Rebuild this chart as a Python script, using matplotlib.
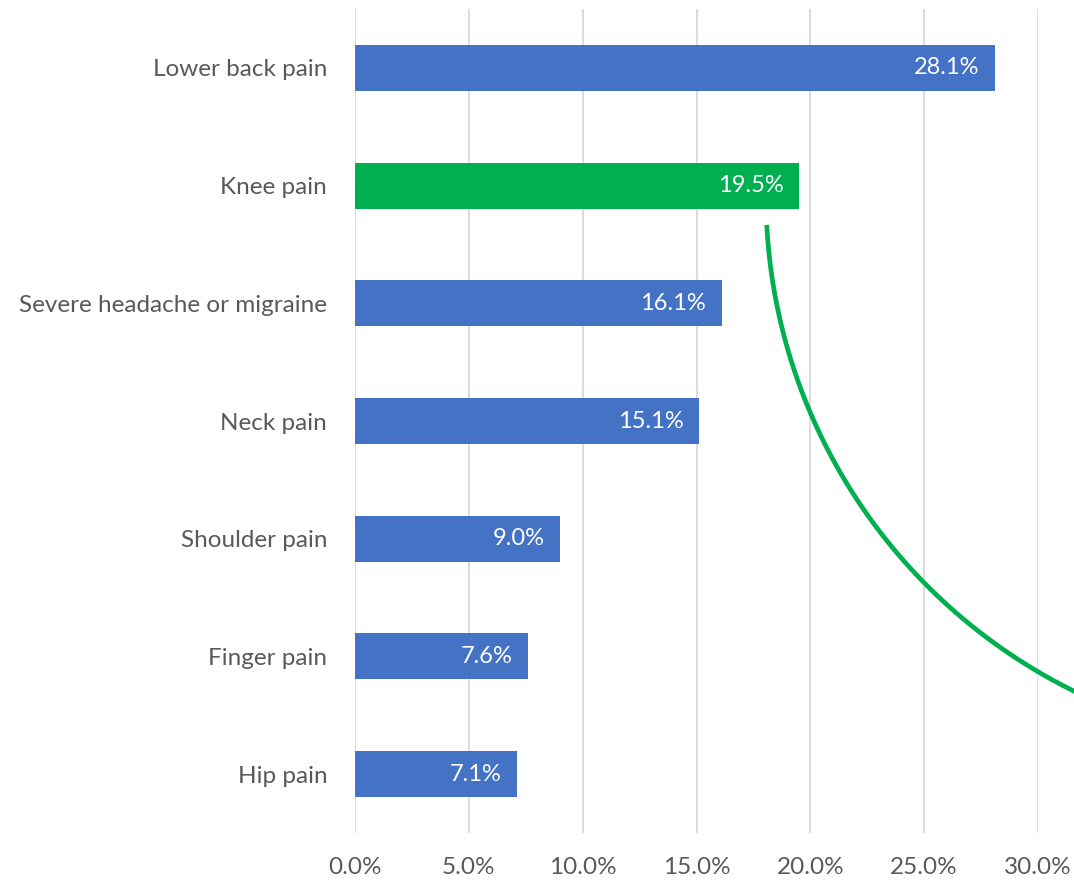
import numpy as np
import matplotlib.pyplot as plt
from matplotlib.lines import Line2D

# datos
categorias = ['Lower back pain', 'Knee pain', 'Severe headache or migraine',
              'Neck pain', 'Shoulder pain', 'Finger pain', 'Hip pain']
valores = [28.1, 19.5, 16.1, 15.1, 9.0, 7.6, 7.1]
colores = ['#4472C4', '#00B050', '#4472C4', '#4472C4', '#4472C4', '#4472C4', '#4472C4']
ticks_x = [0, 5, 10, 15, 20, 25, 30]

plt.rcParams['font.family'] = ['Lato', 'DejaVu Sans']
gris = '#595959'

W, H = 1074, 880
fig = plt.figure(figsize=(W / 100, H / 100), dpi=100)
ax = fig.add_axes([355 / W, 47 / H, (1038 - 355) / W, (833 - 9) / H])

y = np.arange(len(categorias))
ax.barh(y, valores, height=0.39, color=colores, zorder=3)
for yi, v in zip(y, valores):
    ax.annotate(f'{v:.1f}%', (v, yi), xytext=(-11, 0), textcoords='offset points',
                ha='right', va='center', color='white', fontsize=17, zorder=4)

ax.set_ylim(len(categorias) - 0.5, -0.5)
ax.set_xlim(0, 30)
ax.set_yticks(y)
ax.set_yticklabels(categorias)
ax.set_xticks(ticks_x)
ax.set_xticklabels([f'{t:.1f}%' for t in ticks_x])
ax.tick_params(axis='both', length=0, labelsize=17.5, colors=gris)
ax.tick_params(axis='y', pad=20)
ax.tick_params(axis='x', pad=17)
ax.grid(axis='x', color='#D9D9D9', linewidth=1.3, zorder=0)
for s in ax.spines.values():
    s.set_visible(False)

# arco verde (en pixeles de la figura)
cx, cy, r = 1318, H - 196, 552
ang = np.radians(np.linspace(183, 252, 200))
ax_arc = cx + r * np.cos(ang)
ay_arc = cy + r * np.sin(ang)
fig.add_artist(Line2D(ax_arc / W, ay_arc / H, transform=fig.transFigure,
                      color='#00B050', linewidth=3.4, solid_capstyle='butt'))

fig.savefig('out.png', dpi=100)
